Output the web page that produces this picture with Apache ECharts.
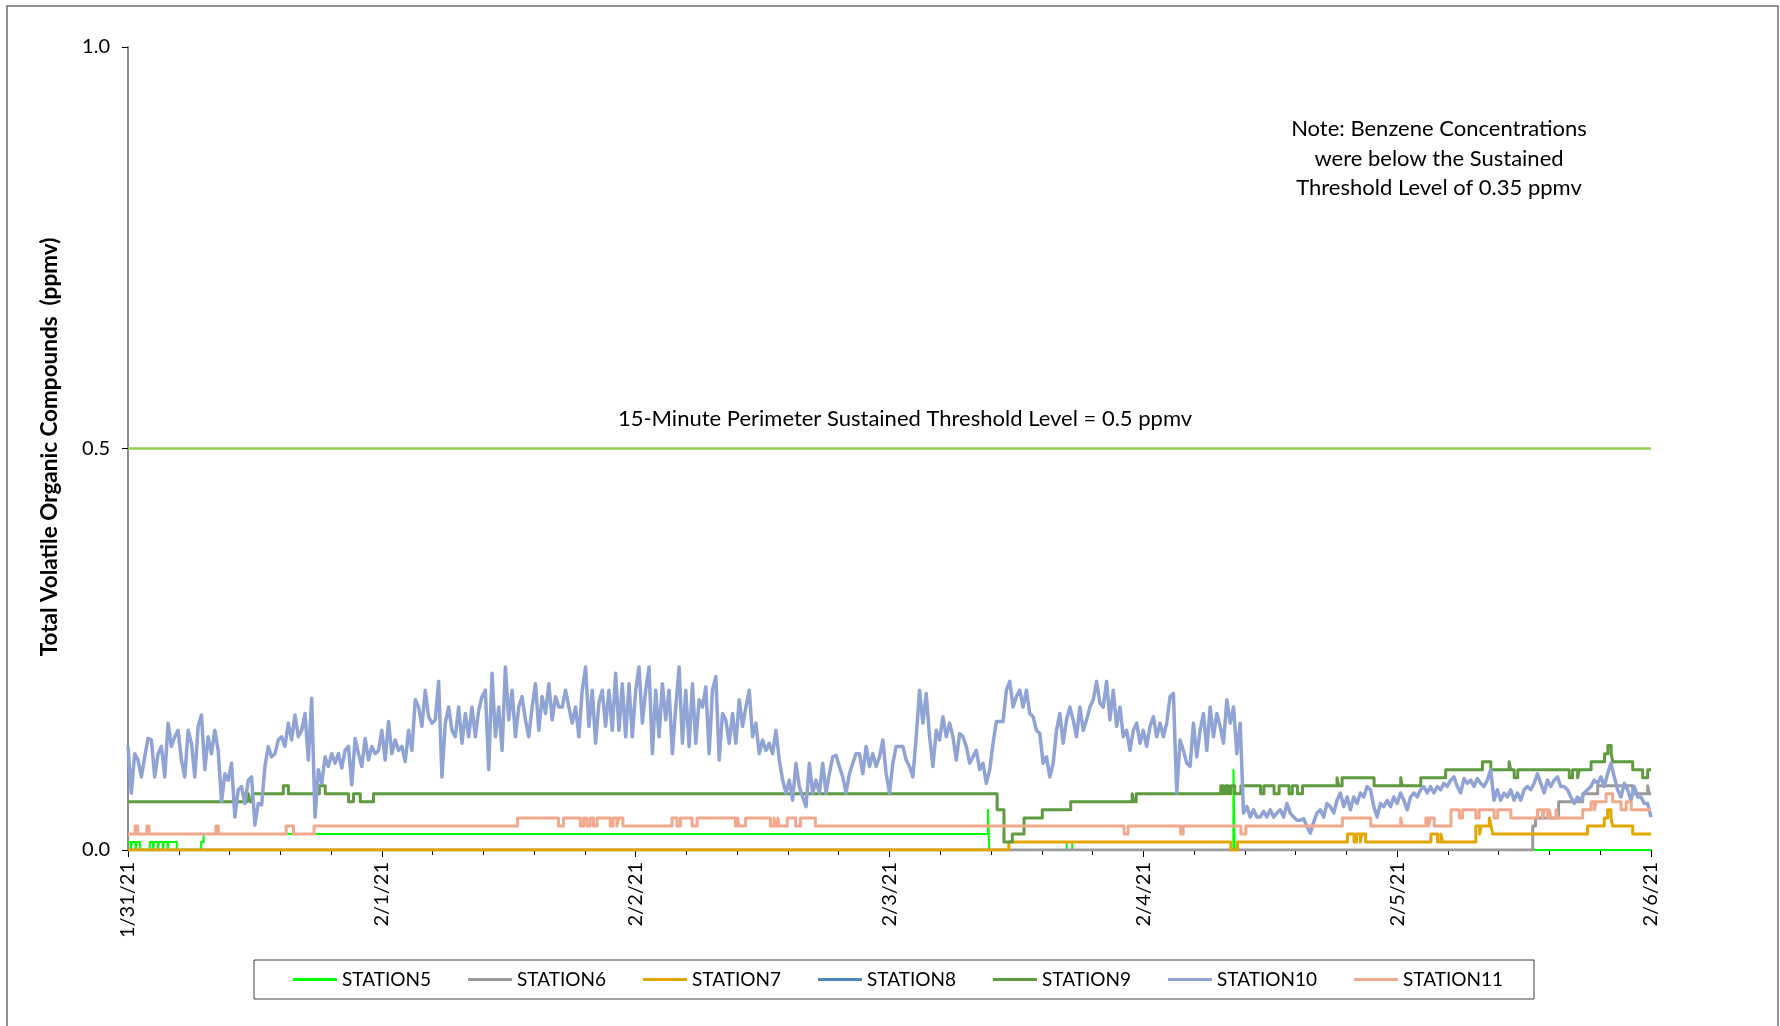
<!DOCTYPE html>
<html><head><meta charset="utf-8">
<script src="https://cdn.jsdelivr.net/npm/echarts@6/dist/echarts.min.js"></script>
<style>html,body{margin:0;padding:0;background:#fff}#c{width:1780px;height:1026px}</style>
</head><body><div id="c"></div>
<script>
// ---------------- DATA ----------------
const dateLabels = ['1/31/21','2/1/21','2/2/21','2/3/21','2/4/21','2/5/21','2/6/21'];
const yTickLabels = ['0.0','0.5','1.0'];
const stationNames = ['STATION5','STATION6','STATION7','STATION8','STATION9','STATION10','STATION11'];
const thresholdValue = 0.5;
const thresholdText = '15-Minute Perimeter Sustained Threshold Level = 0.5 ppmv';
const noteText = 'Note: Benzene Concentrations\nwere below the Sustained\nThreshold Level of 0.35 ppmv';

// x values are days since 1/31/21 00:00
// STATION10: readings every 1/76 day starting 1/31/21 00:00
const station10StepDays = 1 / 76;
const station10 = [
0.129,0.071,0.120,0.112,0.091,0.116,0.139,0.137,0.091,0.120,
0.129,0.091,0.158,0.129,0.141,0.149,0.112,0.091,0.149,0.133,
0.091,0.154,0.168,0.100,0.141,0.120,0.149,0.124,0.060,0.095,
0.087,0.108,0.041,0.075,0.079,0.058,0.087,0.091,0.031,0.058,
0.056,0.104,0.129,0.116,0.120,0.137,0.141,0.129,0.158,0.137,
0.168,0.141,0.149,0.170,0.112,0.189,0.041,0.100,0.083,0.116,
0.104,0.120,0.108,0.120,0.102,0.124,0.129,0.081,0.139,0.120,
0.104,0.139,0.112,0.129,0.120,0.124,0.149,0.112,0.160,0.120,
0.137,0.124,0.129,0.110,0.149,0.124,0.187,0.178,0.154,0.199,
0.166,0.158,
0.162,0.210,0.091,0.158,0.178,0.149,0.141,0.178,0.133,0.170,
0.141,0.178,0.141,0.174,0.191,0.199,0.100,0.220,0.141,0.178,
0.124,0.228,0.162,0.199,0.141,0.178,0.191,0.162,0.141,0.178,
0.207,0.149,0.191,0.170,0.207,0.162,0.191,0.178,0.178,0.199,
0.178,0.158,0.178,0.141,0.199,0.228,0.154,0.199,0.133,0.183,
0.199,0.154,0.199,0.149,0.220,0.149,0.207,0.141,0.207,0.141,
0.199,0.228,0.158,0.199,0.228,0.120,0.199,0.141,0.207,0.162,
0.199,0.120,0.178,0.228,0.133,0.199,0.129,0.207,0.133,0.187,
0.178,0.203,0.120,0.199,0.216,0.112,0.170,0.162,0.133,0.170,
0.133,0.187,
0.154,0.178,0.199,0.141,0.158,0.120,0.137,0.124,0.133,0.120,
0.149,0.112,0.087,0.071,0.087,0.062,0.108,0.079,0.066,0.054,
0.108,0.071,0.087,0.071,0.108,0.071,0.095,0.116,0.118,0.104,
0.091,0.071,0.095,0.108,0.120,0.120,0.095,0.129,0.104,0.120,
0.104,0.116,0.137,0.095,0.071,0.108,0.129,0.129,0.129,0.112,
0.104,0.091,0.141,0.199,0.158,0.195,0.141,0.104,0.149,0.137,
0.166,0.141,0.158,0.141,0.112,0.145,0.141,0.129,0.108,0.116,
0.124,0.100,0.108,0.083,0.100,0.133,0.160,0.160,0.160,0.199,
0.210,0.178,0.191,0.199,0.178,0.199,0.170,0.166,0.149,0.145,
0.108,
0.116,0.091,0.108,0.149,0.170,0.133,0.162,0.178,0.162,0.141,
0.178,0.149,0.162,0.178,0.187,0.210,0.183,0.178,0.210,0.162,
0.199,0.154,0.178,0.141,0.149,0.124,0.149,0.158,0.133,0.149,
0.129,0.154,0.166,0.141,0.158,0.141,0.158,0.191,0.195,0.071,
0.137,0.124,0.108,0.104,0.158,0.116,0.149,0.170,0.124,0.178,
0.141,0.170,0.154,0.133,0.187,0.158,0.178,0.120,0.158,0.046,
0.054,0.041,0.050,0.041,0.041,0.048,0.041,0.050,0.041,0.046,
0.050,0.041,0.058,0.046,0.041,0.037,0.037,0.039,0.029,0.021,
0.035,0.046,0.050,0.041,0.058,0.054,0.046,0.062,0.071,0.054,
0.066,0.050,
0.066,0.058,0.071,0.066,0.079,0.075,0.054,0.041,0.058,0.054,
0.062,0.054,0.066,0.058,0.071,0.062,0.050,0.066,0.071,0.066,
0.075,0.079,0.071,0.079,0.071,0.079,0.075,0.083,0.079,0.087,
0.091,0.079,0.071,0.089,0.083,0.087,0.079,0.089,0.083,0.079,
0.087,0.100,0.062,0.075,0.062,0.071,0.066,0.075,0.062,0.071,
0.062,0.075,0.079,0.075,0.083,0.095,0.083,0.071,0.087,0.079,
0.087,0.091,0.079,0.079,0.075,0.066,0.058,0.066,0.062,0.071,
0.075,0.079,0.087,0.083,0.091,0.079,0.095,0.108,0.091,0.075,
0.066,0.083,0.075,0.062,0.079,0.066,0.066,0.058,0.058,0.041
];

// Step series: [day, value] = value holds from this day until the next change
const station5 = [[0,0.01],[0.010,0],[0.016,0.01],[0.030,0],[0.035,0.01],[0.047,0],[0.086,0.01],[0.099,0],
  [0.103,0.01],[0.118,0],[0.122,0.01],[0.137,0],[0.141,0.01],[0.156,0],[0.160,0.01],[0.192,0],
  [0.288,0.01],[0.298,0.02],[3.388,0.05],[3.393,0],[3.698,0.01],[3.720,0],[4.355,0.10],[4.360,0],[6,0]];
const station6 = [[0,0],[5.534,0.03],[5.545,0.04],[5.636,0.06],[5.731,0.07],[5.790,0.08],[5.928,0.07],
  [5.987,0.08],[5.993,0.07],[6,0.07]];
const station7 = [[0,0],[3.470,0.01],[4.345,0],[4.371,0.01],[4.804,0.02],[4.830,0.01],[4.840,0.02],[4.855,0.01],
  [4.860,0.02],[4.876,0.01],[5.133,0.02],[5.159,0.01],[5.172,0.02],[5.179,0.01],[5.310,0.03],[5.325,0.02],
  [5.330,0.03],[5.363,0.04],[5.370,0.03],[5.376,0.02],[5.750,0.03],[5.816,0.04],[5.829,0.05],[5.842,0.04],
  [5.849,0.03],[5.928,0.02],[6,0.02]];
const station8 = [];
const station9 = [[0,0.06],[0.461,0.07],[0.467,0.06],[0.474,0.07],[0.480,0.06],[0.490,0.07],[0.612,0.08],[0.632,0.07],
  [0.754,0.08],[0.777,0.07],[0.869,0.06],[0.888,0.07],[0.915,0.06],[0.967,0.07],[3.424,0.05],[3.451,0.01],
  [3.484,0.02],[3.530,0.04],[3.602,0.05],[3.714,0.06],[3.956,0.07],[3.962,0.06],[3.972,0.07],[4.305,0.08],
  [4.315,0.07],[4.325,0.08],[4.335,0.07],[4.345,0.08],[4.360,0.07],[4.384,0.08],[4.462,0.07],[4.475,0.08],
  [4.515,0.07],[4.535,0.08],[4.574,0.07],[4.587,0.08],[4.607,0.07],[4.627,0.08],[4.763,0.09],[4.770,0.08],
  [4.783,0.09],[4.909,0.08],[5.014,0.09],[5.020,0.08],[5.093,0.09],[5.191,0.10],[5.336,0.11],[5.369,0.10],
  [5.441,0.11],[5.447,0.10],[5.461,0.09],[5.475,0.10],[5.678,0.09],[5.691,0.10],[5.711,0.09],[5.717,0.10],
  [5.764,0.11],[5.817,0.12],[5.830,0.13],[5.843,0.12],[5.849,0.11],[5.928,0.10],[5.967,0.09],[5.987,0.10],[6,0.10]];
const station11 = [[0,0.02],[0.028,0.03],[0.038,0.02],[0.074,0.03],[0.083,0.02],[0.346,0.03],[0.356,0.02],
  [0.623,0.03],[0.652,0.02],[0.733,0.03],[1.535,0.04],[1.696,0.03],[1.716,0.04],[1.782,0.03],[1.795,0.04],
  [1.808,0.03],[1.821,0.04],[1.834,0.03],[1.848,0.04],[1.900,0.03],[1.911,0.04],[1.926,0.03],[1.933,0.04],
  [1.950,0.03],[2.143,0.04],[2.163,0.03],[2.176,0.04],[2.222,0.03],[2.242,0.04],[2.393,0.03],[2.402,0.04],
  [2.406,0.03],[2.433,0.04],[2.531,0.03],[2.545,0.04],[2.551,0.03],[2.560,0.04],[2.565,0.03],[2.597,0.04],
  [2.630,0.03],[2.649,0.04],[2.708,0.03],[3.924,0.02],[3.940,0.03],[4.147,0.02],[4.157,0.03],[4.384,0.02],
  [4.404,0.03],[4.784,0.04],[4.896,0.03],[5.014,0.04],[5.020,0.03],[5.113,0.04],[5.124,0.03],[5.130,0.04],
  [5.146,0.03],[5.212,0.05],[5.245,0.04],[5.258,0.05],[5.310,0.04],[5.323,0.05],[5.382,0.04],[5.396,0.05],
  [5.448,0.04],[5.553,0.05],[5.573,0.04],[5.580,0.05],[5.593,0.04],[5.599,0.05],[5.606,0.04],[5.626,0.05],
  [5.632,0.04],[5.731,0.05],[5.764,0.06],[5.777,0.05],[5.784,0.06],[5.823,0.07],[5.849,0.06],[5.882,0.05],
  [5.902,0.06],[5.922,0.05],[6,0.05]];

// ---------------- CHART ----------------
const FONT = 'Lato';
const colors = {
  STATION5:'#00ff00', STATION6:'#9a9a9a', STATION7:'#e3a600', STATION8:'#4f86c0',
  STATION9:'#5e9a3e', STATION10:'#8fa3d4', STATION11:'#f2a88c'
};
const chart = echarts.init(document.getElementById('c'));
const s10 = station10.map((v, i) => [i * station10StepDays, v]);

function lineSeries(name, data, width, step) {
  return {
    name, type:'line', data, step: step ? 'end' : false,
    symbol:'none', showSymbol:false, silent:true,
    itemStyle:{color:colors[name]},
    lineStyle:{color:colors[name], width, join:'round'},
    emphasis:{disabled:true}
  };
}

const option = {
  animation:false,
  backgroundColor:'#fff',
  grid:{left:128, right:129, top:47, bottom:176},
  xAxis:[{
    type:'value', min:0, max:6, interval:1,
    axisLine:{show:true, onZero:false, lineStyle:{color:'#000', width:1}},
    axisTick:{show:true, length:7, lineStyle:{color:'#000', width:1}},
    minorTick:{show:true, splitNumber:5, length:5, lineStyle:{color:'#000', width:1}},
    splitLine:{show:false}, minorSplitLine:{show:false},
    axisLabel:{formatter:v => dateLabels[Math.round(v)], rotate:90, fontSize:20, color:'#000', fontFamily:FONT, margin:12}
  },{
    type:'value', position:'top', min:0, max:6,
    axisLine:{show:true, lineStyle:{color:'#8c8c8c', width:2}},
    axisTick:{show:false}, axisLabel:{show:false}, splitLine:{show:false}
  }],
  yAxis:[{
    type:'value', min:0, max:1, interval:0.5,
    axisLine:{show:true, lineStyle:{color:'#000', width:1}},
    axisTick:{show:true, length:6, lineStyle:{color:'#000'}},
    splitLine:{show:false},
    axisLabel:{formatter:v => yTickLabels[Math.round(v * 2)], fontSize:20, color:'#000', fontFamily:FONT, margin:18}
  },{
    type:'value', position:'right', min:0, max:1,
    axisLine:{show:true, lineStyle:{color:'#8c8c8c', width:2}},
    axisTick:{show:false}, axisLabel:{show:false}, splitLine:{show:false}
  }],
  legend:{
    data:stationNames, left:293, top:970, padding:0, icon:'rect', itemWidth:44, itemHeight:3, itemGap:37,
    textStyle:{fontSize:19, fontFamily:FONT, color:'#000'},
    selectedMode:false
  },
  graphic:[
    {type:'rect', shape:{x:7, y:6, width:1771, height:1100}, style:{fill:'none', stroke:'#6e6e6e', lineWidth:1.5}, silent:true},
    {type:'rect', shape:{x:254, y:960, width:1280, height:39}, style:{fill:'none', stroke:'#404040', lineWidth:1}, silent:true},
    {type:'text', x:50, y:447, rotation:Math.PI/2,
      style:{text:'Total Volatile Organic Compounds  (ppmv)', font:'bold 22.5px ' + FONT, fill:'#000', textAlign:'center', textVerticalAlign:'middle'}},
    {type:'text', x:905, y:419,
      style:{text:thresholdText, font:'22px ' + FONT, fill:'#000', textAlign:'center', textVerticalAlign:'middle'}},
    {type:'text', x:1439, y:158.5,
      style:{text:noteText, font:'22px ' + FONT, fill:'#000', textAlign:'center', textVerticalAlign:'middle', lineHeight:29.5}}
  ],
  series:[
    {name:'threshold', type:'line', data:[[0, thresholdValue],[6, thresholdValue]], symbol:'none', silent:true,
      lineStyle:{color:'#92d050', width:2.5}, itemStyle:{color:'#92d050'}, emphasis:{disabled:true}},
    lineSeries('STATION5', station5, 2, true),
    lineSeries('STATION6', station6, 3, true),
    lineSeries('STATION7', station7, 3, true),
    lineSeries('STATION8', station8, 3, true),
    lineSeries('STATION9', station9, 3, true),
    lineSeries('STATION10', s10, 3.5, false),
    lineSeries('STATION11', station11, 3, true)
  ]
};
chart.setOption(option);
</script></body></html>
